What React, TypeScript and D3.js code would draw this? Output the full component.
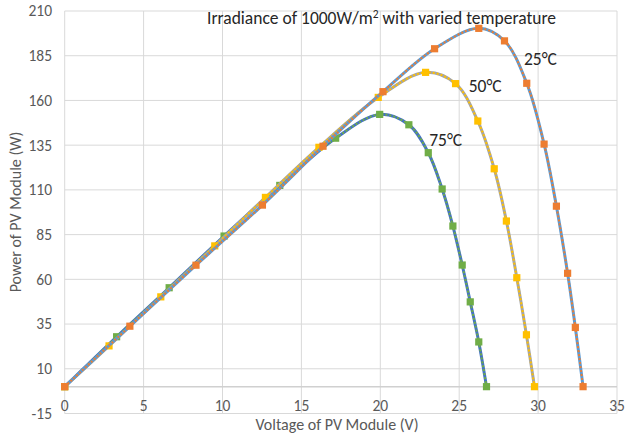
import React from 'react';
import * as d3 from 'd3';

// PV module power vs voltage at 1000W/m2, three temperatures
const v25 = [0, 4.13, 8.32, 12.53, 16.37, 20.17, 23.44, 26.24, 27.87, 29.28, 30.38, 31.16, 31.87, 32.36, 32.85];
const p25 = [0, 33.8, 67.9, 101.5, 134.4, 164.9, 188.9, 200.3, 193.3, 169.6, 135.6, 100.9, 63.4, 33.1, 0];

const v50 = [0, 2.81, 6.09, 9.51, 12.72, 16.11, 19.87, 22.87, 24.77, 26.18, 27.22, 27.99, 28.65, 29.26, 29.77];
const p50 = [0, 22.8, 50.2, 78.7, 105.8, 133.8, 161.7, 175.7, 169.4, 148.5, 121.8, 92.6, 60.9, 29, 0];

const v75 = [0, 3.29, 6.62, 10.1, 13.63, 17.17, 19.96, 21.81, 23.04, 23.92, 24.6, 25.19, 25.7, 26.24, 26.73];
const p75 = [0, 27.9, 55.3, 84.2, 112.5, 138.9, 152.2, 146.4, 130.8, 110.5, 89.8, 68, 47.4, 25, 0];

const xTicks = [0, 5, 10, 15, 20, 25, 30, 35];
const yTicks = [-15, 10, 35, 60, 85, 110, 135, 160, 185, 210];

const series = [
  { name: '75°C', v: v75, p: p75, line: '#4472C4', marker: '#70AD47' },
  { name: '50°C', v: v50, p: p50, line: '#A5A5A5', marker: '#FFC000' },
  { name: '25°C', v: v25, p: p25, line: '#5B9BD5', marker: '#ED7D31' },
];

const labels = [
  { text: '25°C', x: 29.1, y: 180 },
  { text: '50°C', x: 25.6, y: 165 },
  { text: '75°C', x: 23.1, y: 134.7 },
];

const W = 625;
const H = 436;
const left = 64.7;
const right = 617;
const top = 11;
const bottom = 413.5;

export default function App() {
  const x = d3.scaleLinear().domain([0, 35]).range([left, right]);
  const y = d3.scaleLinear().domain([-15, 210]).range([bottom, top]);
  const font = 'Calibri, Carlito, "Open Sans", sans-serif';
  const grey = '#595959';

  const line = d3
    .line<[number, number]>()
    .x(d => x(d[0]))
    .y(d => y(d[1]))
    .curve(d3.curveCatmullRom.alpha(0.5));

  return (
    <svg
      width={W}
      height={H}
      style={{ position: 'fixed', left: 0, top: 0, background: '#fff' }}
      fontFamily={font}
    >
      {/* grid */}
      {yTicks.map(t => (
        <line key={'gy' + t} x1={left} x2={right} y1={y(t)} y2={y(t)} stroke="#D9D9D9" strokeWidth={1} />
      ))}
      {xTicks.map(t => (
        <line key={'gx' + t} x1={x(t)} x2={x(t)} y1={top} y2={bottom} stroke="#D9D9D9" strokeWidth={1} />
      ))}
      <line x1={left} x2={right} y1={y(0)} y2={y(0)} stroke="#D0D0D0" strokeWidth={1.5} />

      {/* tick labels */}
      {yTicks.map(t => (
        <text key={'ly' + t} x={52} y={y(t)} dy="0.35em" textAnchor="end" fontSize={15.5} fill={grey}>
          {t}
        </text>
      ))}
      {xTicks.map(t => (
        <text key={'lx' + t} x={x(t)} y={406} dy="0.35em" textAnchor="middle" fontSize={15.5} fill={grey}>
          {t}
        </text>
      ))}

      {/* curves */}
      {series.map(s => {
        const pts = s.v.map((v, i) => [v, s.p[i]] as [number, number]);
        return (
          <g key={s.name}>
            <path d={line(pts) || ''} fill="none" stroke={s.line} strokeWidth={3} />
            <path
              d={line(pts) || ''}
              fill="none"
              stroke={s.marker}
              strokeWidth={2}
              strokeDasharray="2 2"
            />
            {pts.map((d, i) => (
              <rect
                key={i}
                x={x(d[0]) - 3.6}
                y={y(d[1]) - 3.6}
                width={7.2}
                height={7.2}
                fill={s.marker}
              />
            ))}
          </g>
        );
      })}

      {/* series labels */}
      {labels.map(l => (
        <text key={l.text} x={x(l.x)} y={y(l.y)} fontSize={17.5} fill="#262626">
          {l.text}
        </text>
      ))}

      {/* title */}
      <text x={207} y={23.5} fontSize={17.5} fill="#262626">
        Irradiance of 1000W/m<tspan dy={-6} fontSize={11.5}>2</tspan>
        <tspan dy={6}> with varied temperature</tspan>
      </text>

      {/* axis titles */}
      <text x={337} y={430} textAnchor="middle" fontSize={16} fill={grey}>
        Voltage of PV Module (V)
      </text>
      <text
        transform={`translate(21, 212) rotate(-90)`}
        textAnchor="middle"
        fontSize={16}
        fill={grey}
      >
        Power of PV Module (W)
      </text>
    </svg>
  );
}
